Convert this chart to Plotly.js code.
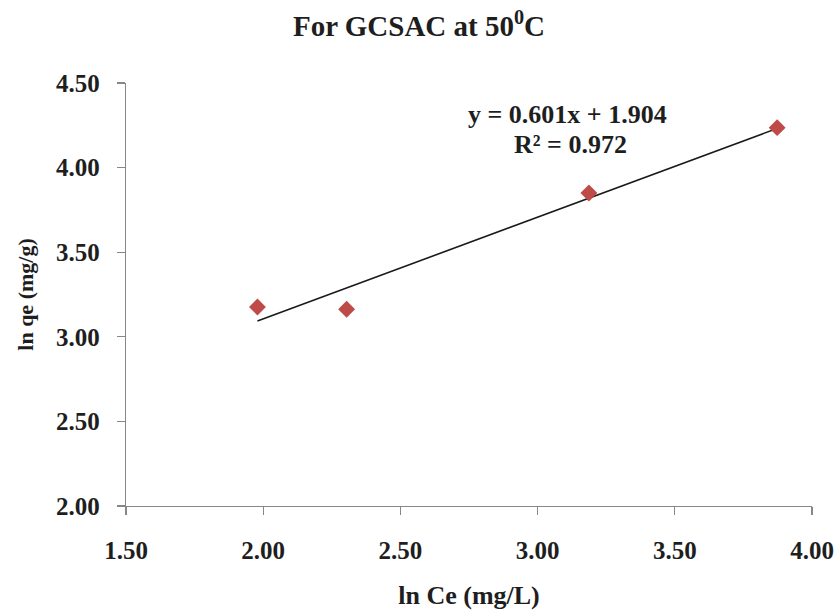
<!DOCTYPE html>
<html>
<head>
<meta charset="utf-8">
<script src="https://cdn.plot.ly/plotly-3.0.1.min.js"></script>
<style>
  html, body { margin: 0; padding: 0; background: #ffffff; }
  #chart { width: 838px; height: 613px; }
</style>
</head>
<body>
<div id="chart"></div>
<script>
// Freundlich isotherm, GCSAC at 50 °C
const lnCe = [1.979, 2.304, 3.187, 3.873];
const lnQe = [3.176, 3.163, 3.850, 4.236];

// Linear trendline as reported
const slope = 0.601;
const intercept = 1.904;
const r2 = 0.972;

const xTicks = [1.5, 2.0, 2.5, 3.0, 3.5, 4.0];
const yTicks = [2.0, 2.5, 3.0, 3.5, 4.0, 4.5];

const xMin = Math.min(...lnCe);
const xMax = Math.max(...lnCe);
const fitX = [xMin, xMax];
const fitY = fitX.map(v => slope * v + intercept);

const serif = 'Liberation Serif, Times New Roman, serif';
const axisColor = '#878787';
const textColor = '#1e1e1e';

const traces = [
  {
    x: fitX, y: fitY,
    type: 'scatter', mode: 'lines',
    line: { color: '#1a1a1a', width: 1.6 },
    hoverinfo: 'skip', showlegend: false
  },
  {
    x: lnCe, y: lnQe,
    type: 'scatter', mode: 'markers',
    marker: { symbol: 'diamond', size: 13, color: '#BE4B48' },
    showlegend: false
  }
];

const layout = {
  width: 838, height: 613,
  paper_bgcolor: '#ffffff', plot_bgcolor: '#ffffff',
  margin: { l: 126, r: 26, t: 83, b: 107 },
  title: {
    text: '<b>For GCSAC at 50<sup>0</sup>C</b>',
    font: { family: serif, size: 29, color: textColor },
    x: 0.5, xanchor: 'center', y: 0.958, yanchor: 'middle'
  },
  xaxis: {
    range: [1.5, 4.0],
    tickvals: xTicks,
    ticktext: xTicks.map(v => '<b>' + v.toFixed(2) + '</b>'),
    ticks: 'outside', ticklen: 8, tickcolor: axisColor, tickwidth: 1.3,
    ticklabelstandoff: 14,
    showline: true, linecolor: axisColor, linewidth: 1.3,
    showgrid: false, zeroline: false,
    tickfont: { family: serif, size: 25, color: textColor },
    title: {
      text: '<b>ln Ce (mg/L)</b>',
      font: { family: serif, size: 26, color: textColor },
      standoff: 22
    }
  },
  yaxis: {
    range: [2.0, 4.5],
    tickvals: yTicks,
    ticktext: yTicks.map(v => '<b>' + v.toFixed(2) + '</b>'),
    ticks: 'outside', ticklen: 8, tickcolor: axisColor, tickwidth: 1.3,
    ticklabelstandoff: 12,
    showline: true, linecolor: axisColor, linewidth: 1.3,
    showgrid: false, zeroline: false,
    tickfont: { family: serif, size: 25, color: textColor },
    title: {
      text: '<b>ln qe (mg/g)</b>',
      font: { family: serif, size: 22, color: textColor },
      standoff: 16
    }
  },
  annotations: [
    {
      xref: 'paper', yref: 'paper',
      x: (567 - 126) / 686, y: (506 - 114) / 423,
      xanchor: 'center', yanchor: 'middle',
      text: '<b>y = ' + slope.toFixed(3) + 'x + ' + intercept.toFixed(3) + '</b>',
      showarrow: false,
      font: { family: serif, size: 26, color: textColor }
    },
    {
      xref: 'paper', yref: 'paper',
      x: (570 - 126) / 686, y: (506 - 144) / 423,
      xanchor: 'center', yanchor: 'middle',
      text: '<b>R² = ' + r2.toFixed(3) + '</b>',
      showarrow: false,
      font: { family: serif, size: 26, color: textColor }
    }
  ]
};

Plotly.newPlot('chart', traces, layout, { displayModeBar: false, staticPlot: true });
</script>
</body>
</html>
